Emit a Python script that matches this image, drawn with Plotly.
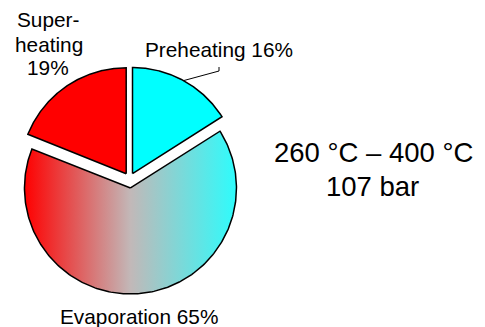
import numpy as np
import plotly.graph_objects as go

# Share of heat duty per stage of the steam generator
stages = ["Preheating", "Evaporation", "Superheating"]
shares = [16, 65, 19]
pulls = [0.057, 0.087, 0.057]          # explode distance, in radii
solid_fill = {"Preheating": "#00ffff", "Superheating": "#ff0000"}
evap_scale = [[0.0, "#ff0000"], [0.5, "#c2b8b8"], [1.0, "#2efcfc"]]

temp_range = "260 °C – 400 °C"
pressure = "107 bar"

W, H = 485, 327
CX, CY, R = 129.6, 178.8, 106.0        # pie centre and radius in pixels
FONT = "Liberation Sans, Arial, sans-serif"


def px_to_paper(px, py):
    return px / W, 1 - py / H


def sector(a0, a1, pull, n=240):
    """Closed outline of a clockwise sector starting a0 deg from 12 o'clock."""
    mid = np.radians((a0 + a1) / 2)
    ox, oy = pull * np.sin(mid), pull * np.cos(mid)
    t = np.radians(np.linspace(a0, a1, n))
    xs = np.concatenate([[ox], ox + np.sin(t), [ox]])
    ys = np.concatenate([[oy], oy + np.cos(t), [oy]])
    return xs, ys, (ox, oy), mid


fig = go.Figure()
total = float(sum(shares))
start = 0.0
geo = {}
for stage, share, pull in zip(stages, shares, pulls):
    span = 360.0 * share / total
    xs, ys, origin, mid = sector(start, start + span, pull)
    geo[stage] = (origin, mid)
    kw = dict(x=xs, y=ys, mode="lines", fill="toself",
              line=dict(color="black", width=1.5), hoverinfo="skip",
              name=stage)
    if stage in solid_fill:
        kw["fillcolor"] = solid_fill[stage]
    else:
        kw["fillgradient"] = dict(type="horizontal", colorscale=evap_scale)
    fig.add_trace(go.Scatter(**kw))
    start += span

# Leader line from the Preheating arc to its label
(ox, oy), mid = geo["Preheating"]
ax0, ay0 = ox + np.sin(mid), oy + np.cos(mid)
bx = (219 - CX) / R
fig.add_trace(go.Scatter(
    x=[ax0, bx, bx], y=[ay0, (CY - 71) / R, (CY - 67) / R],
    mode="lines", line=dict(color="black", width=1), hoverinfo="skip"))

share = dict(zip(stages, shares))


def label(text, px, baseline, size):
    xp, yp = px_to_paper(px, baseline - 0.347 * size)
    fig.add_annotation(text=text, x=xp, y=yp, xref="paper", yref="paper",
                       xanchor="center", yanchor="middle", showarrow=False,
                       font=dict(family=FONT, size=size, color="black"))


label(f"Preheating {share['Preheating']}%", 218.5, 56.7, 20.8)
label(f"Evaporation {share['Evaporation']}%", 139, 323.3, 20.8)
label("Super-", 48, 26.7, 20.8)
label("heating", 48.5, 51.5, 20.8)
label(f"{share['Superheating']}%", 48.3, 75.2, 20.8)
label(temp_range, 373, 162.3, 27.5)
label(pressure, 372.5, 195.7, 27.5)

fig.update_layout(
    width=W, height=H, margin=dict(l=0, r=0, t=0, b=0),
    paper_bgcolor="white", plot_bgcolor="white", showlegend=False,
    xaxis=dict(range=[-CX / R, (W - CX) / R], visible=False, fixedrange=True),
    yaxis=dict(range=[(CY - H) / R, CY / R], visible=False, fixedrange=True),
)

fig.write_html("out.html")
